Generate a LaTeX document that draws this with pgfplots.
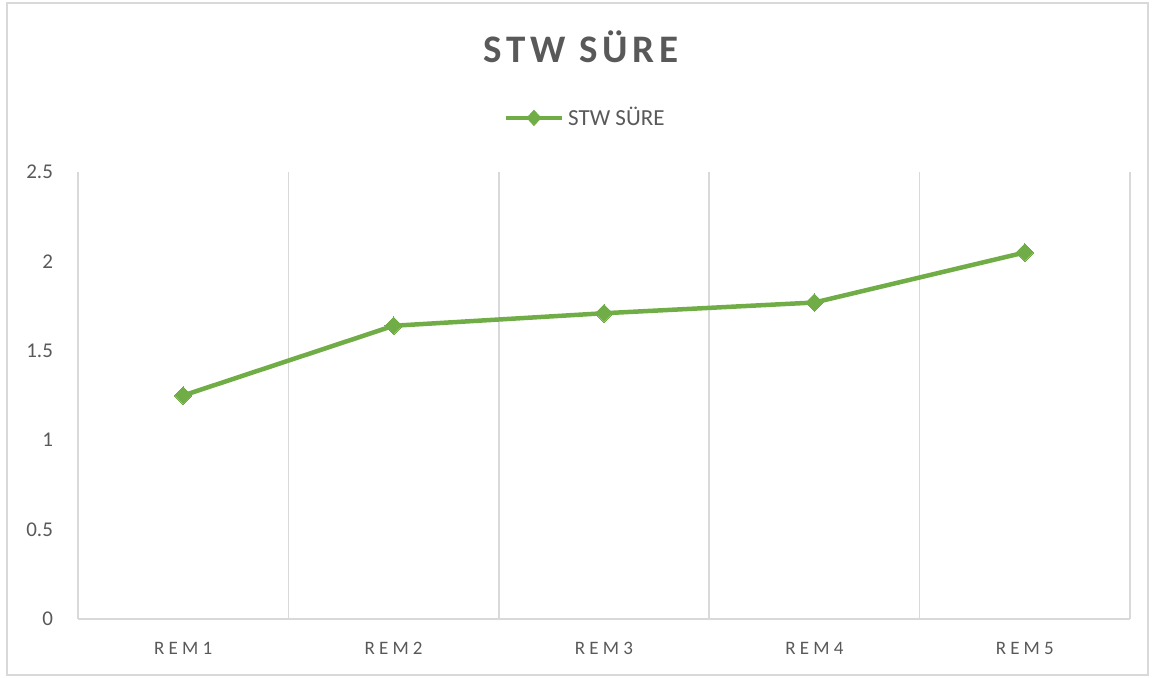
\documentclass[border=0pt]{standalone}
\usepackage{fontspec}
\setmainfont{Carlito}
\newfontfamily\xspaced[LetterSpace=22]{Carlito}
\newfontfamily\tspaced[LetterSpace=12]{Carlito}
\usepackage{pgfplots}
\pgfplotsset{compat=1.18}
\definecolor{linegreen}{HTML}{70AD47}
\definecolor{gridgray}{HTML}{D9D9D9}
\definecolor{textgray}{HTML}{595959}
\begin{document}
\begin{tikzpicture}
\path[use as bounding box] (0,0) rectangle (577.5pt,339pt);
\draw[gridgray, line width=0.75pt] (3.5pt,1.5pt) rectangle (574pt,337.5pt);
\begin{axis}[
  at={(39pt,29.5pt)}, anchor=south west,
  scale only axis,
  width=526pt, height=223.5pt,
  xmin=0.5, xmax=5.5, ymin=0, ymax=2.5,
  axis line style={draw=none},
  xtick={1,2,3,4,5},
  xticklabels={REM1,REM2,REM3,REM4,REM5},
  ytick={0,0.5,1,1.5,2,2.5},
  major tick length=0pt,
  extra x ticks={0.5,1.5,2.5,3.5,4.5,5.5},
  extra x tick labels={},
  extra x tick style={grid=major, major grid style={gridgray, line width=0.75pt}},
  extra y ticks={0},
  extra y tick labels={},
  extra y tick style={grid=major, major grid style={gridgray, line width=0.75pt}},
  /pgf/number format/assume math mode=true,
  yticklabel style={font=\fontsize{10.5}{12}\selectfont, text=textgray, anchor=east, xshift=-9pt},
  xticklabel style={font=\fontsize{9.5}{11}\xspaced, text=textgray, anchor=north, yshift=-8pt},
  title={\fontsize{19.5}{22}\tspaced\bfseries STW SÜRE},
  title style={text=textgray, at={(0.478,1.253)}, anchor=center},
  legend style={draw=none, fill=none, at={(0.483,1.121)}, anchor=center,
    font=\fontsize{11.5}{13}\selectfont, text=textgray, inner sep=0pt},
  legend cell align=left,
  clip=false,
]
\addlegendimage{legend image code/.code={
  \draw[linegreen, line width=2.25pt] (0pt,0pt) -- (28pt,0pt);
  \fill[linegreen] (14pt,3.8pt) -- (17.5pt,0pt) -- (14pt,-3.8pt) -- (10.5pt,0pt) -- cycle;
}}
\addlegendentry{STW SÜRE}
\addplot[linegreen, line width=2.25pt, mark=square*, mark size=3.1pt,
  mark options={fill=linegreen, draw=linegreen, line width=0pt, rotate=45}, forget plot]
  coordinates {(1,1.25) (2,1.64) (3,1.71) (4,1.77) (5,2.05)};
\end{axis}
\end{tikzpicture}
\end{document}
